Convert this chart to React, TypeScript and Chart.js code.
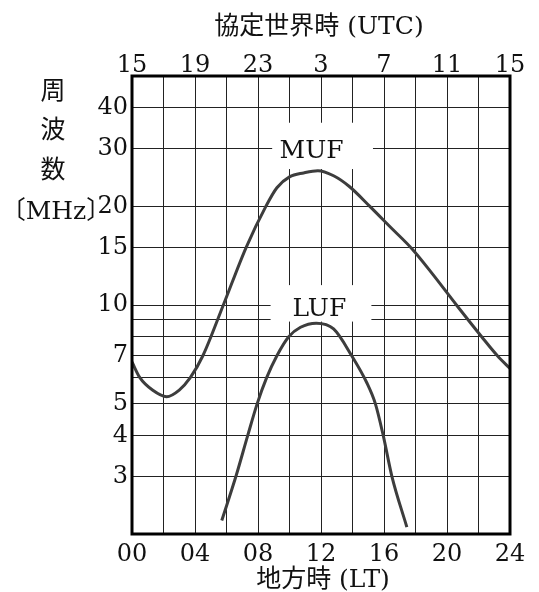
import React, { useEffect, useRef } from 'react';
import { Chart, registerables } from 'chart.js';

Chart.register(...registerables);

// ---- data ----
const mufHours = [0, 0.5, 1.3, 2.2, 3.0, 3.7, 4.5, 5.8, 7.25, 8.5, 9.2, 10.0, 10.9, 11.8, 12.8, 13.8, 15.1, 16.4, 17.8, 19.1, 20.6, 22.2, 23.2, 24];
const mufValues = [6.7, 6.0, 5.5, 5.25, 5.5, 6.0, 7.0, 10.0, 15, 20, 22.8, 24.6, 25.3, 25.7, 24.8, 23.0, 20, 17.3, 14.8, 12.4, 10, 8, 7, 6.4];
const lufHours = [5.7, 6.6, 7.35, 7.95, 8.55, 9.2, 9.95, 10.7, 11.7, 12.8, 13.95, 14.9, 15.45, 15.95, 16.5, 17.45];
const lufValues = [2.2, 3.0, 4.0, 5.0, 6.0, 7.0, 8.0, 8.55, 8.8, 8.45, 7.0, 5.8, 5.0, 4.0, 3.0, 2.1];

const gridHours = [0, 2, 4, 6, 8, 10, 12, 14, 16, 18, 20, 22, 24];
const localTickHours = [0, 4, 8, 12, 16, 20, 24];
const utcOffset = 15; // UTC = LT + 15 (mod 24)
const freqGrid = [3, 4, 5, 6, 7, 8, 9, 10, 15, 20, 30, 40];
const freqLabels = [3, 4, 5, 7, 10, 15, 20, 30, 40];

const curveNames = ['MUF', 'LUF'];

// ---- layout / style ----
const SERIF = "'DejaVu Serif', 'Noto Sans CJK JP', serif";
const TICK_FONT = { family: SERIF, size: 24 };
const CURVE_COLOR = '#3d3d3d';
const GRID_COLOR = '#222';
const LABEL_LAYOUT = [
  { text: curveNames[0], h: 11.4, f: 29.5, box: { h0: 8.9, h1: 15.3, f0: 26, f1: 36 } },
  { text: curveNames[1], h: 11.9, f: 9.7, box: { h0: 8.8, h1: 15.2, f0: 8.9, f1: 11.5 } },
];

const decorPlugin = {
  id: 'decor',
  beforeDatasetsDraw(chart: any) {
    const { ctx } = chart;
    const x = chart.scales.x;
    const y = chart.scales.y;
    ctx.save();
    ctx.fillStyle = '#fff';
    LABEL_LAYOUT.forEach((l) => {
      const x0 = x.getPixelForValue(l.box.h0);
      const x1 = x.getPixelForValue(l.box.h1);
      const y0 = y.getPixelForValue(l.box.f1);
      const y1 = y.getPixelForValue(l.box.f0);
      ctx.fillRect(x0, y0, x1 - x0, y1 - y0);
    });
    ctx.fillStyle = '#111';
    ctx.font = `25px ${SERIF}`;
    ctx.textAlign = 'center';
    ctx.textBaseline = 'middle';
    LABEL_LAYOUT.forEach((l) => {
      ctx.fillText(l.text, x.getPixelForValue(l.h), y.getPixelForValue(l.f));
    });
    ctx.restore();
  },
  afterDraw(chart: any) {
    const { ctx, chartArea: a } = chart;
    ctx.save();
    ctx.strokeStyle = '#000';
    ctx.lineWidth = 3;
    ctx.strokeRect(a.left, a.top, a.right - a.left, a.bottom - a.top);

    ctx.fillStyle = '#111';
    ctx.textAlign = 'center';
    ctx.textBaseline = 'middle';
    ctx.font = `25px ${SERIF}`;
    ctx.fillText('協定世界時 (UTC)', 319, 27);
    ctx.fillText('地方時 (LT)', 323, 580);
    ['周', '波', '数'].forEach((c, i) => ctx.fillText(c, 53, 92 + i * 39.5));
    ctx.fillText('〔MHz〕', 56, 212);
    ctx.restore();
  },
};

export default function App() {
  const ref = useRef<HTMLCanvasElement | null>(null);

  useEffect(() => {
    if (!ref.current) return;
    const chart = new Chart(ref.current, {
      type: 'line',
      data: {
        datasets: [
          {
            label: curveNames[0],
            data: mufHours.map((h, i) => ({ x: h, y: mufValues[i] })),
            borderColor: CURVE_COLOR,
            borderWidth: 3,
            pointRadius: 0,
            cubicInterpolationMode: 'monotone',
            fill: false,
          },
          {
            label: curveNames[1],
            data: lufHours.map((h, i) => ({ x: h, y: lufValues[i] })),
            borderColor: CURVE_COLOR,
            borderWidth: 3,
            pointRadius: 0,
            cubicInterpolationMode: 'monotone',
            fill: false,
          },
        ],
      },
      options: {
        responsive: false,
        animation: false,
        layout: { padding: { left: 0, right: 29, top: 0, bottom: 0 } },
        plugins: { legend: { display: false }, tooltip: { enabled: false }, title: { display: false } },
        scales: {
          x: {
            type: 'linear',
            position: 'bottom',
            min: 0,
            max: 24,
            afterBuildTicks: (s: any) => {
              s.ticks = gridHours.map((v) => ({ value: v }));
            },
            ticks: {
              autoSkip: false,
              maxRotation: 0,
              padding: 6,
              color: '#111',
              font: TICK_FONT,
              callback: (v: any) => (localTickHours.includes(Number(v)) ? String(v).padStart(2, '0') : ''),
            },
            grid: { color: GRID_COLOR, lineWidth: 1, drawTicks: false },
            border: { display: false },
            afterFit: (s: any) => {
              s.height = 58;
            },
          },
          x2: {
            type: 'linear',
            position: 'top',
            min: 0,
            max: 24,
            afterBuildTicks: (s: any) => {
              s.ticks = localTickHours.map((v) => ({ value: v }));
            },
            ticks: {
              autoSkip: false,
              maxRotation: 0,
              padding: -4,
              color: '#111',
              font: TICK_FONT,
              callback: (v: any) => String((Number(v) + utcOffset) % 24),
            },
            grid: { display: false, drawTicks: false },
            border: { display: false },
            afterFit: (s: any) => {
              s.height = 76;
            },
          },
          y: {
            type: 'logarithmic',
            min: 2,
            max: 50,
            afterBuildTicks: (s: any) => {
              s.ticks = freqGrid.map((v) => ({ value: v }));
            },
            ticks: {
              autoSkip: false,
              padding: 4,
              color: '#111',
              font: TICK_FONT,
              callback: (v: any) => (freqLabels.includes(Number(v)) ? String(v) : ''),
            },
            grid: { color: GRID_COLOR, lineWidth: 1, drawTicks: false },
            border: { display: false },
            afterFit: (s: any) => {
              s.width = 132;
            },
          },
        },
      } as any,
      plugins: [decorPlugin],
    });
    return () => chart.destroy();
  }, []);

  return (
    <div style={{ position: 'absolute', left: 0, top: 0, width: 539, height: 592, background: '#fff' }}>
      <canvas ref={ref} width={539} height={592} style={{ display: 'block' }} />
    </div>
  );
}
